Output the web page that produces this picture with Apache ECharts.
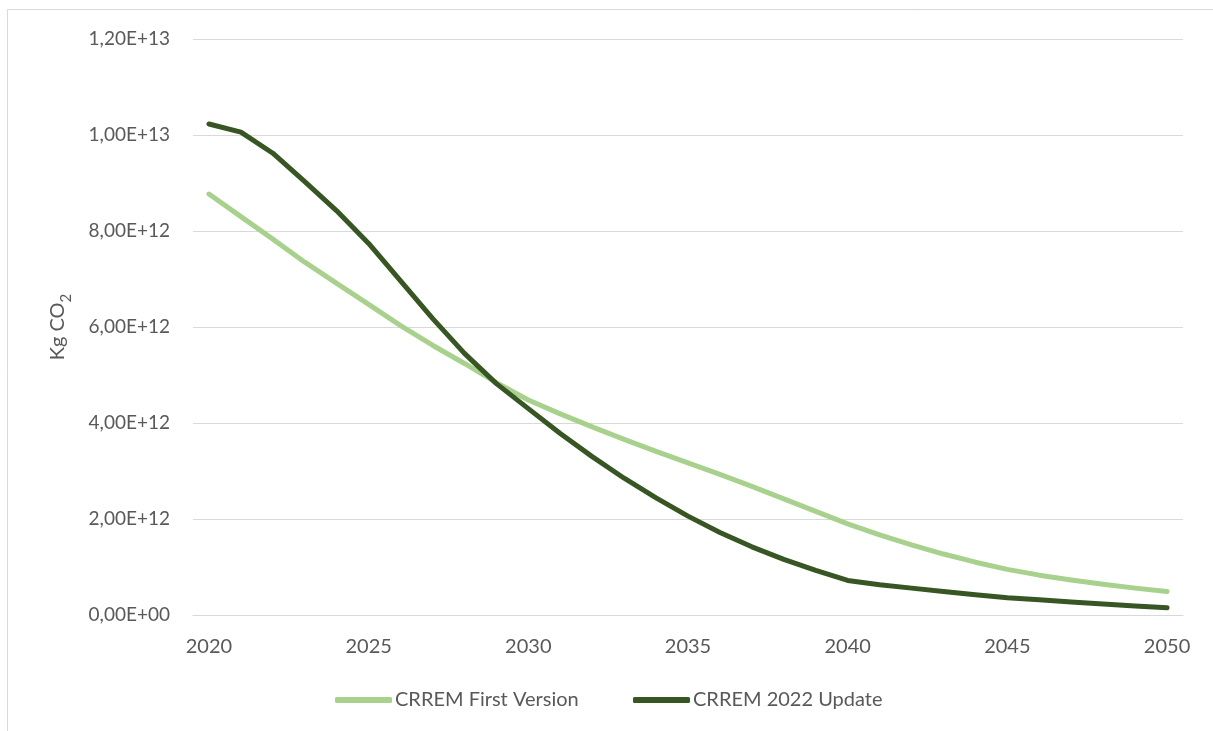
<!DOCTYPE html>
<html>
<head>
<meta charset="utf-8">
<script src="https://cdn.jsdelivr.net/npm/echarts@6/dist/echarts.min.js"></script>
<style>
html,body{margin:0;padding:0;background:#fff;}
#chart{width:1213px;height:731px;}
</style>
</head>
<body>
<div id="chart"></div>
<script>
var years = [];
for (var y = 2020; y <= 2050; y++) years.push(String(y));

var seriesNames = ['CRREM First Version', 'CRREM 2022 Update'];

// values in units of 1E12 kg CO2
var firstVersion = [8.77, 8.30, 7.83, 7.35, 6.91, 6.47, 6.03, 5.62, 5.24, 4.84, 4.48,
  4.19, 3.92, 3.66, 3.41, 3.17, 2.93, 2.68, 2.42, 2.16, 1.90,
  1.67, 1.46, 1.27, 1.10, 0.95, 0.83, 0.73, 0.64, 0.56, 0.49];
var update2022 = [10.23, 10.06, 9.62, 9.03, 8.42, 7.74, 6.96, 6.18, 5.45, 4.82, 4.30,
  3.78, 3.30, 2.85, 2.44, 2.06, 1.72, 1.42, 1.16, 0.93, 0.72,
  0.63, 0.56, 0.49, 0.42, 0.36, 0.32, 0.27, 0.23, 0.19, 0.15];

var yTicks = { min: 0, max: 12e12, interval: 2e12 };

function toKg(arr){ return arr.map(function(v){ return v * 1e12; }); }

function sci(v){
  if (v === 0) return '0,00E+00';
  var e = Math.floor(Math.log10(Math.abs(v)) + 1e-9);
  var m = v / Math.pow(10, e);
  var es = (e < 10 ? '0' : '') + e;
  return m.toFixed(2).replace('.', ',') + 'E+' + es;
}

var FONT = 'Lato';
var TXT = '#595959';
var FS = 19;
var LIGHT = '#A9D18E';
var DARK = '#375623';

function legendAt(left, name){
  return {
    left: left,
    top: 690,
    padding: 0,
    itemWidth: 57,
    itemHeight: 6,
    icon: 'roundRect',
    textStyle: { fontFamily: FONT, fontSize: 20, color: TXT, padding: [0, 0, 0, -2] },
    data: [name]
  };
}

var chart = echarts.init(document.getElementById('chart'));
chart.setOption({
  animation: false,
  backgroundColor: '#ffffff',
  graphic: [{
    type: 'rect',
    shape: { x: 7.5, y: 9.5, width: 1300, height: 800 },
    style: { fill: 'none', stroke: '#D9D9D9', lineWidth: 1 },
    silent: true
  }],
  grid: { left: 193, right: 30, top: 39, bottom: 116 },
  legend: [legendAt(335, seriesNames[0]), legendAt(633, seriesNames[1])],
  xAxis: {
    type: 'category',
    data: years,
    boundaryGap: true,
    axisLine: { show: true, lineStyle: { color: '#D9D9D9', width: 1 } },
    axisTick: { show: false },
    axisLabel: { interval: 4, margin: 22, fontFamily: FONT, fontSize: 20, color: TXT },
    splitLine: { show: false }
  },
  yAxis: {
    type: 'value',
    min: yTicks.min,
    max: yTicks.max,
    interval: yTicks.interval,
    name: '{a|Kg CO}{b|2}',
    nameLocation: 'middle',
    nameGap: 119,
    nameRotate: 90,
    nameTextStyle: {
      lineHeight: 32,
      rich: {
        a: { fontFamily: FONT, fontSize: 20, lineHeight: 32, color: TXT },
        b: { fontFamily: FONT, fontSize: 15, lineHeight: 15, color: TXT, verticalAlign: 'bottom' }
      }
    },
    axisLine: { show: false },
    axisTick: { show: false },
    axisLabel: { margin: 23, fontFamily: FONT, fontSize: FS, color: TXT, formatter: sci },
    splitLine: { show: true, lineStyle: { color: '#D9D9D9', width: 1 } }
  },
  series: [{
    name: seriesNames[0],
    type: 'line',
    data: toKg(firstVersion),
    smooth: false,
    showSymbol: false,
    symbol: 'none',
    itemStyle: { color: LIGHT },
    lineStyle: { color: LIGHT, width: 5, cap: 'round', join: 'round' }
  }, {
    name: seriesNames[1],
    type: 'line',
    data: toKg(update2022),
    smooth: false,
    showSymbol: false,
    symbol: 'none',
    itemStyle: { color: DARK },
    lineStyle: { color: DARK, width: 5, cap: 'round', join: 'round' }
  }]
});
</script>
</body>
</html>
